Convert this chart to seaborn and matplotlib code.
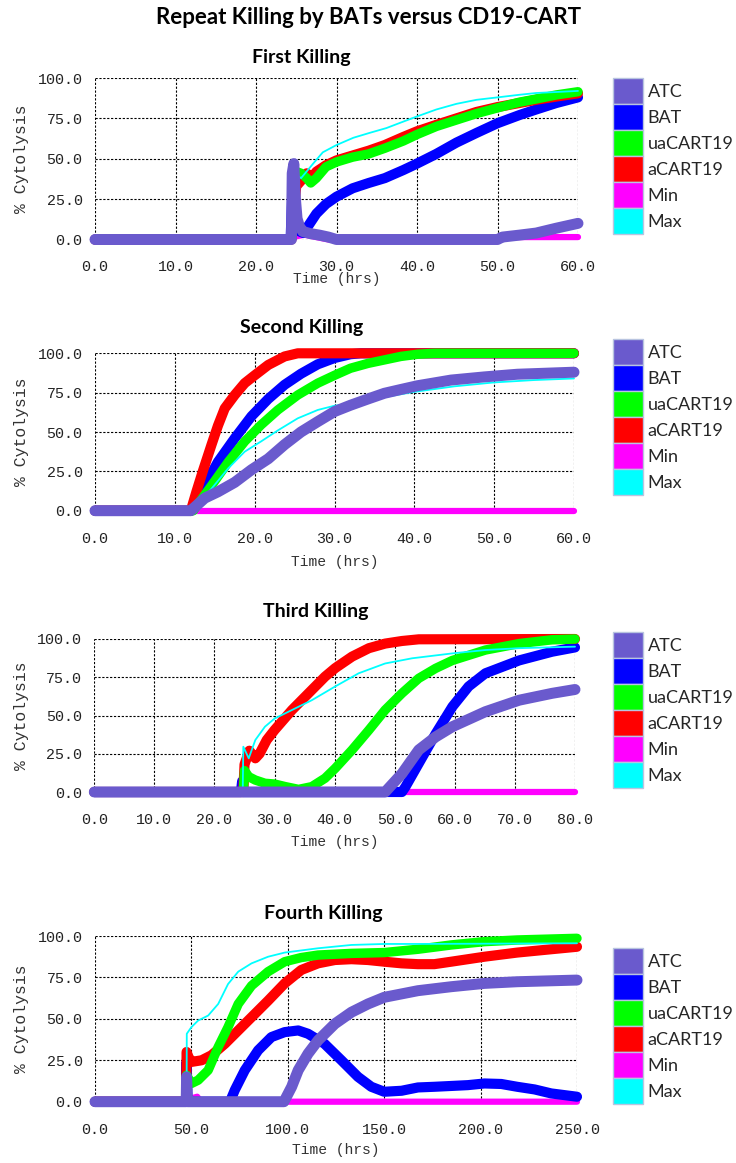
import matplotlib
matplotlib.use("Agg")
import matplotlib.pyplot as plt
import seaborn as sns
from matplotlib.patches import Patch

sns.set_style("white")
plt.rcParams['font.family'] = ['Lato', 'DejaVu Sans']

W, H = 736, 1163

SERIES = ["ATC", "BAT", "uaCART19", "aCART19", "Min", "Max"]
COLORS = {"ATC": "#6a5acd", "BAT": "#0000ff", "uaCART19": "#00ff00",
          "aCART19": "#ff0000", "Min": "#ff00ff", "Max": "#00ffff"}
DRAW_ORDER = ["Min", "BAT", "aCART19", "uaCART19", "Max", "ATC"]
WIDTHS = {"ATC": 7.9, "BAT": 7.3, "uaCART19": 6.8, "aCART19": 7.3, "Min": 4.5, "Max": 1.3}

Y_TICKS = [0, 25, 50, 75, 100]

# ---------------- Panel 1: First Killing ----------------
p1_xticks = [0, 10, 20, 30, 40, 50, 60]
p1_atc_t = [0, 24.4, 24.5, 24.7, 24.9, 25.1, 25.4, 25.8, 26.7, 27.9, 29, 30, 50, 50.6, 52.7, 54.8, 57.3, 60]
p1_atc_v = [0, 0, 41, 47, 25, 13, 8, 5, 3.7, 2.7, 1.5, 0, 0, 1.5, 2.7, 4, 7, 10]
p1_bat_t = [0, 24.3, 24.5, 24.7, 24.9, 25.1, 25.4, 25.9, 26.7, 27.5, 28.7, 30, 32, 34, 36, 38.3, 40, 42.4, 44.9, 47.4, 50, 52.7, 54.8, 57.3, 60]
p1_bat_v = [0, 0, 28, 37, 20, 9, 5, 4, 10, 16, 22, 26.5, 31.7, 35, 38, 43, 47, 53, 60, 66, 72, 77, 80.5, 84.5, 88]
p1_ua_t = [0, 24.4, 24.6, 25, 25.6, 26.3, 26.8, 27.5, 28.7, 30, 32, 34, 36, 38.3, 40, 42.4, 44.9, 47.4, 50, 52.7, 54.8, 57.3, 60]
p1_ua_v = [0, 0, 30, 42, 41, 38, 35, 38, 45, 48, 51, 53, 56.5, 61, 65, 70, 74, 78, 81.5, 85, 87, 89.5, 91.5]
p1_a_t = [0, 24.4, 24.5, 25, 25.7, 26.3, 26.9, 27.5, 28.7, 30, 32, 34, 36, 38.3, 40, 42.4, 44.9, 47.4, 50, 52.7, 54.8, 57.3, 60]
p1_a_v = [0, 0, 8, 33, 37, 41, 38, 42, 46, 49, 52, 55, 58.5, 63.5, 67, 71, 75, 79, 82, 84.5, 86.5, 88.5, 90.5]
p1_min_t = [0, 24.5, 25, 26, 27, 28, 29, 50, 52, 60]
p1_min_v = [0, 0, 2, 3, 2, 1, 0, 0, 1.5, 1.5]
p1_max_t = [0, 24.3, 24.5, 25, 25.6, 27.1, 28.3, 30, 32.1, 34.1, 36.2, 38.3, 39.9, 42.4, 44.9, 47.4, 50, 52.7, 54.8, 60]
p1_max_v = [0, 0, 42, 40, 38, 47, 54, 58.5, 63, 66, 69, 73, 76, 80.5, 84, 86.5, 88, 89.6, 90.7, 92]

# ---------------- Panel 2: Second Killing ----------------
p2_xticks = [0, 10, 20, 30, 40, 50, 60]
p2_atc_t = [0, 12, 13.75, 15.4, 17.5, 19.6, 21.7, 23.75, 25.8, 27.9, 30, 32, 34.2, 36.25, 38.3, 40.4, 44.6, 48.75, 52.9, 60]
p2_atc_v = [0, 0, 8, 12, 18, 26, 33, 42, 50, 56.6, 63, 67, 71, 74.6, 77, 79.4, 83, 85, 86.7, 88]
p2_bat_t = [0, 12, 13.75, 15.4, 17.5, 19.6, 21.7, 23.75, 25.8, 27.9, 30, 32, 33.3, 60]
p2_bat_v = [0, 0, 16, 31, 46, 60, 71, 80, 87, 93, 97, 99.4, 100, 100]
p2_ua_t = [0, 12.3, 14.6, 16.7, 18.75, 20.8, 22.9, 25.4, 27.9, 30, 32, 34.2, 36.25, 38.3, 40.4, 42.5, 60]
p2_ua_v = [0, 0, 16, 31, 44, 54.5, 64, 73.5, 81, 86, 90.5, 93.6, 95.8, 98, 99.4, 100, 100]
p2_a_t = [0, 12, 12.7, 13.5, 14.6, 15.4, 16.25, 17.5, 18.75, 20, 21.7, 23.75, 25.4, 60]
p2_a_v = [0, 0, 12, 25, 42, 54, 65, 73.5, 81, 86, 92.6, 98, 100, 100]
p2_min_t = [0, 60]
p2_min_v = [0, 0]
p2_max_t = [0, 12.2, 14.6, 16.7, 18.75, 20.8, 22.9, 25.4, 27.9, 30, 32, 35, 40, 45, 50, 55, 60]
p2_max_v = [0, 0, 14, 27, 37.5, 44, 51, 58.7, 64, 66.7, 68, 71, 75.5, 79, 81.5, 83, 84]

# ---------------- Panel 3: Third Killing ----------------
p3_xticks = [0, 10, 20, 30, 40, 50, 60, 70, 80]
p3_atc_t = [0, 48.4, 51.2, 54, 56.8, 59.6, 65.1, 70.7, 76.2, 80]
p3_atc_v = [0, 0, 12, 27.5, 36, 42.7, 52.5, 60, 64.5, 67]
p3_bat_t = [0, 24.4, 24.6, 24.8, 51.2, 51.8, 54, 56.8, 59.6, 62.3, 65.1, 70.7, 76.2, 80]
p3_bat_v = [0, 0, 7, 0, 0, 3.5, 18.7, 38, 55.8, 69, 77.6, 86, 91.7, 94.5]
p3_ua_t = [0, 24.8, 25, 25.7, 26.8, 28.4, 30, 31.8, 34, 36.2, 38.4, 40.1, 42.9, 45.7, 48.4, 51.2, 54, 56.8, 59.6, 65.1, 70.7, 76.2, 80]
p3_ua_v = [0, 0, 14, 10, 7.8, 5.7, 5.2, 3.5, 1.7, 3.5, 9, 15.5, 27.5, 40.5, 53.6, 64.5, 74.3, 80.8, 86, 92.8, 97, 99.5, 100]
p3_a_t = [0, 24.8, 25, 25.8, 26.8, 27.5, 28.7, 30, 32.9, 36.2, 38.4, 40.1, 42.9, 45.7, 48.4, 51.2, 54, 80]
p3_a_v = [0, 0, 18, 27, 22, 25, 34, 40.5, 53.6, 66.7, 75.4, 81, 88.5, 94, 97, 98.7, 99.8, 100]
p3_min_t = [0, 80]
p3_min_v = [0, 0]
p3_max_t = [0, 24.7, 24.8, 25.7, 26.8, 28.4, 30, 32.9, 36.2, 40.1, 44, 48.4, 52.9, 59.6, 65.1, 70.7, 80]
p3_max_v = [0, 0, 29.6, 22, 34, 42.7, 48, 53.6, 60, 69, 77.6, 84, 87.4, 90.6, 92.8, 94, 95]

# ---------------- Panel 4: Fourth Killing ----------------
p4_xticks = [0, 50, 100, 150, 200, 250]
p4_atc_t = [0, 47.3, 47.5, 47.7, 48, 98, 102, 105.4, 110.5, 115.7, 124.4, 133, 141.6, 150, 167.5, 184.8, 202, 219, 250]
p4_atc_v = [0, 0, 15, 9, 0, 0, 9, 19, 29, 37, 47, 54, 59, 63, 67, 69.4, 71.4, 72.4, 73.4]
p4_bat_t = [0, 47.2, 47.4, 47.7, 48, 70, 72.5, 77.7, 84.6, 91.5, 98.4, 105.4, 110.5, 119, 127.8, 136.4, 143.3, 150, 159, 167.5, 176, 184.8, 193.4, 202, 210.7, 219, 228, 236.6, 250]
p4_bat_v = [0, 0, 24, 12, 0, 0, 7, 19, 31, 39, 42, 43, 41, 35, 25, 15, 9, 6, 6.6, 8.6, 9, 9.5, 10, 11, 10.7, 9, 7.4, 5, 3]
p4_ua_t = [0, 47.3, 47.5, 50, 53.5, 58.7, 63.9, 69, 74.3, 81.2, 89.8, 98.4, 107, 115.7, 133, 150, 167.5, 184.8, 202, 219, 250]
p4_ua_v = [0, 0, 16, 11, 13, 19, 33, 45, 59, 70, 78.5, 84.5, 87, 88.5, 89.5, 90, 92, 94.6, 96.6, 97.6, 98.6]
p4_a_t = [0, 47.3, 47.5, 48.5, 50, 55.3, 60.4, 67.4, 74.3, 81.2, 89.8, 98.4, 107, 115.7, 124.4, 133, 141.6, 150, 159, 167.5, 176, 184.8, 202, 219, 236.6, 250]
p4_a_v = [0, 0, 30, 27, 24, 25, 28, 35, 43, 51, 61, 71.4, 79.5, 83.5, 85.5, 86, 85.5, 84.5, 83.5, 83, 83, 84.5, 87.5, 90, 92, 93.5]
p4_min_t = [0, 47, 48, 50, 53, 55, 250]
p4_min_v = [0, 0, 4, 2, 3, 0, 0]
p4_max_t = [0, 47.5, 47.6, 50, 53.5, 58.7, 63.9, 69, 74.3, 81.2, 89.8, 98.4, 115.7, 133, 150, 167.5, 250]
p4_max_v = [0, 0, 41, 45, 49, 52, 59, 71, 78.5, 83.5, 87.5, 90, 92.6, 94.6, 95.2, 95.2, 95.6]

MAIN_TITLE = "Repeat Killing by BATs versus CD19-CART"
PANEL_TITLES = ["First Killing", "Second Killing", "Third Killing", "Fourth Killing"]
X_LABEL = "Time (hrs)"
Y_LABEL = "% Cytolysis"

panels = [
    dict(title=PANEL_TITLES[0], xticks=p1_xticks,
         data={"ATC": (p1_atc_t, p1_atc_v), "BAT": (p1_bat_t, p1_bat_v),
               "uaCART19": (p1_ua_t, p1_ua_v), "aCART19": (p1_a_t, p1_a_v),
               "Min": (p1_min_t, p1_min_v), "Max": (p1_max_t, p1_max_v)},
         rect=(95, 78, 578, 239.5), title_xy=(301, 57), legend_top=78, xlabel_y=279),
    dict(title=PANEL_TITLES[1], xticks=p2_xticks,
         data={"ATC": (p2_atc_t, p2_atc_v), "BAT": (p2_bat_t, p2_bat_v),
               "uaCART19": (p2_ua_t, p2_ua_v), "aCART19": (p2_a_t, p2_a_v),
               "Min": (p2_min_t, p2_min_v), "Max": (p2_max_t, p2_max_v)},
         rect=(95, 353.3, 574, 510.7), title_xy=(302, 327), legend_top=339, xlabel_y=562),
    dict(title=PANEL_TITLES[2], xticks=p3_xticks,
         data={"ATC": (p3_atc_t, p3_atc_v), "BAT": (p3_bat_t, p3_bat_v),
               "uaCART19": (p3_ua_t, p3_ua_v), "aCART19": (p3_a_t, p3_a_v),
               "Min": (p3_min_t, p3_min_v), "Max": (p3_max_t, p3_max_v)},
         rect=(94.3, 639, 575, 792), title_xy=(316, 612), legend_top=632, xlabel_y=842),
    dict(title=PANEL_TITLES[3], xticks=p4_xticks,
         data={"ATC": (p4_atc_t, p4_atc_v), "BAT": (p4_bat_t, p4_bat_v),
               "uaCART19": (p4_ua_t, p4_ua_v), "aCART19": (p4_a_t, p4_a_v),
               "Min": (p4_min_t, p4_min_v), "Max": (p4_max_t, p4_max_v)},
         rect=(95, 936, 577, 1101.7), title_xy=(323, 913), legend_top=948, xlabel_y=1150),
]

fig = plt.figure(figsize=(W / 100, H / 100), dpi=100)
fig.patch.set_facecolor("white")

fig.text(369 / W, 1 - 18 / H, MAIN_TITLE, ha="center", va="center",
         fontsize=16, fontweight="bold", color="black")

TICK_FONT = dict(family=["Liberation Mono", "DejaVu Sans Mono"], size=10.8)
LABEL_FAMILY = ["Liberation Mono", "DejaVu Sans Mono"]

for p in panels:
    l, t, r, b = p["rect"]
    ax = fig.add_axes([l / W, 1 - b / H, (r - l) / W, (b - t) / H])
    for name in DRAW_ORDER:
        xs, ys = p["data"][name]
        sns.lineplot(x=xs, y=ys, ax=ax, color=COLORS[name], linewidth=WIDTHS[name],
                     estimator=None, sort=False, legend=False,
                     solid_capstyle="round", solid_joinstyle="round", clip_on=False,
                     zorder=3)
    xmax = p["xticks"][-1]
    ax.set_xlim(0, xmax)
    ax.set_ylim(0, 100)
    ax.set_xticks(p["xticks"])
    ax.set_yticks(Y_TICKS)
    ax.set_xticklabels([f"{v:.1f}" for v in p["xticks"]], fontdict=TICK_FONT, color="#222222")
    ax.set_yticklabels([f"{v:.1f}" for v in Y_TICKS], fontdict=TICK_FONT, color="#222222")
    ax.tick_params(axis="x", length=0, pad=15)
    ax.tick_params(axis="y", length=0, pad=9)
    ax.grid(True, color="black", linestyle=(0, (2, 1.5)), linewidth=0.8, zorder=1)
    ax.set_axisbelow(True)
    for s in ax.spines.values():
        s.set_visible(False)
    ax.set_facecolor("white")

    ax.set_xlabel(X_LABEL, fontfamily=LABEL_FAMILY, fontsize=10.5, color="#333333")
    ax.xaxis.set_label_coords(0.5, -(p["xlabel_y"] - 7 - b) / (b - t))
    ax.set_ylabel(Y_LABEL, fontfamily=LABEL_FAMILY, fontsize=11.8, color="#333333")
    ax.yaxis.set_label_coords(-(l - 29) / (r - l), 0.5)

    tx, ty = p["title_xy"]
    fig.text(tx / W, 1 - ty / H, p["title"], ha="center", va="center",
             fontsize=14, fontweight="bold", color="black")

    handles = [Patch(facecolor=COLORS[s], edgecolor="#b8c4e0", linewidth=1.0) for s in SERIES]
    ax.legend(handles, SERIES, loc="upper left",
              bbox_to_anchor=(613 / W, 1 - p["legend_top"] / H),
              bbox_transform=fig.transFigure, frameon=False, fontsize=13,
              handlelength=1.66, handleheight=1.84, labelspacing=0,
              handletextpad=0.25, borderpad=0, borderaxespad=0)

fig.savefig("out.png", dpi=100, facecolor="white")
